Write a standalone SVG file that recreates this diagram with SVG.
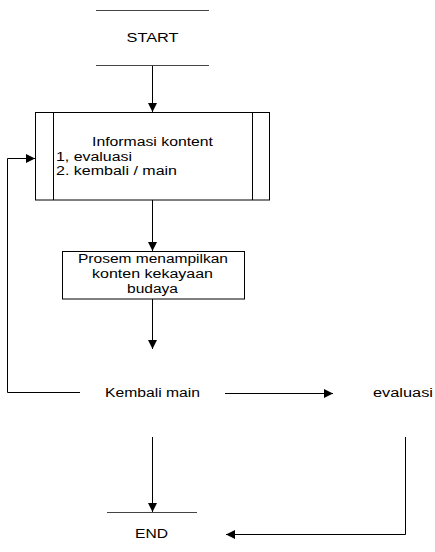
<svg xmlns="http://www.w3.org/2000/svg" width="435" height="552" viewBox="0 0 435 552">
<style>
text{font-family:"Liberation Sans",Arial,sans-serif;font-size:12px;fill:#000}
.ln{stroke:#000;stroke-width:1;fill:none}
.term{stroke:#444;stroke-width:1.2}
.box{fill:#fff;stroke:#000;stroke-width:1}
</style>
<defs>
<marker id="ah" viewBox="0 0 10 10" refX="10" refY="5" markerWidth="9" markerHeight="9" markerUnits="userSpaceOnUse" orient="auto">
<path d="M0,0 L10,5 L0,10 z" fill="#000"/>
</marker>
</defs>
<g id="start">
<line class="term" x1="96" y1="10.5" x2="209" y2="10.5"/>
<line class="term" x1="96" y1="65.5" x2="209" y2="65.5"/>
<text x="152.5" y="42" text-anchor="middle" textLength="52" lengthAdjust="spacingAndGlyphs">START</text>
</g>
<g id="info">
<rect class="box" x="35.5" y="112.5" width="234" height="87.5"/>
<line class="ln" x1="53.5" y1="112.5" x2="53.5" y2="200"/>
<line class="ln" x1="252.5" y1="112.5" x2="252.5" y2="200"/>
<text x="152.5" y="146" text-anchor="middle" textLength="121" lengthAdjust="spacingAndGlyphs">Informasi kontent</text>
<text x="56" y="161" textLength="76" lengthAdjust="spacingAndGlyphs">1, evaluasi</text>
<text x="56" y="175" textLength="121" lengthAdjust="spacingAndGlyphs">2. kembali / main</text>
</g>
<g id="process">
<rect class="box" x="62.5" y="251.5" width="182" height="47.5"/>
<text x="153" y="263" text-anchor="middle" textLength="150" lengthAdjust="spacingAndGlyphs">Prosem menampilkan</text>
<text x="152.5" y="278" text-anchor="middle" textLength="121" lengthAdjust="spacingAndGlyphs">konten kekayaan</text>
<text x="152.5" y="293" text-anchor="middle" textLength="51" lengthAdjust="spacingAndGlyphs">budaya</text>
</g>
<g id="kembali">
<text x="105" y="397" textLength="95" lengthAdjust="spacingAndGlyphs">Kembali main</text>
</g>
<g id="evaluasi">
<text x="373" y="397" textLength="60" lengthAdjust="spacingAndGlyphs">evaluasi</text>
</g>
<g id="end">
<line class="term" x1="107" y1="512.5" x2="197" y2="512.5"/>
<text x="151.5" y="538" text-anchor="middle" textLength="33" lengthAdjust="spacingAndGlyphs">END</text>
</g>
<g id="connectors">
<line class="ln" x1="152.5" y1="66" x2="152.5" y2="112" marker-end="url(#ah)"/>
<line class="ln" x1="152.5" y1="200" x2="152.5" y2="251" marker-end="url(#ah)"/>
<line class="ln" x1="152.5" y1="299" x2="152.5" y2="349" marker-end="url(#ah)"/>
<polyline class="ln" points="80,392.5 7.5,392.5 7.5,158.5 35,158.5" marker-end="url(#ah)"/>
<line class="ln" x1="225" y1="393.5" x2="333" y2="393.5" marker-end="url(#ah)"/>
<line class="ln" x1="152.5" y1="437" x2="152.5" y2="512" marker-end="url(#ah)"/>
<polyline class="ln" points="405.5,437 405.5,534.5 226,534.5" marker-end="url(#ah)"/>
</g>
</svg>
